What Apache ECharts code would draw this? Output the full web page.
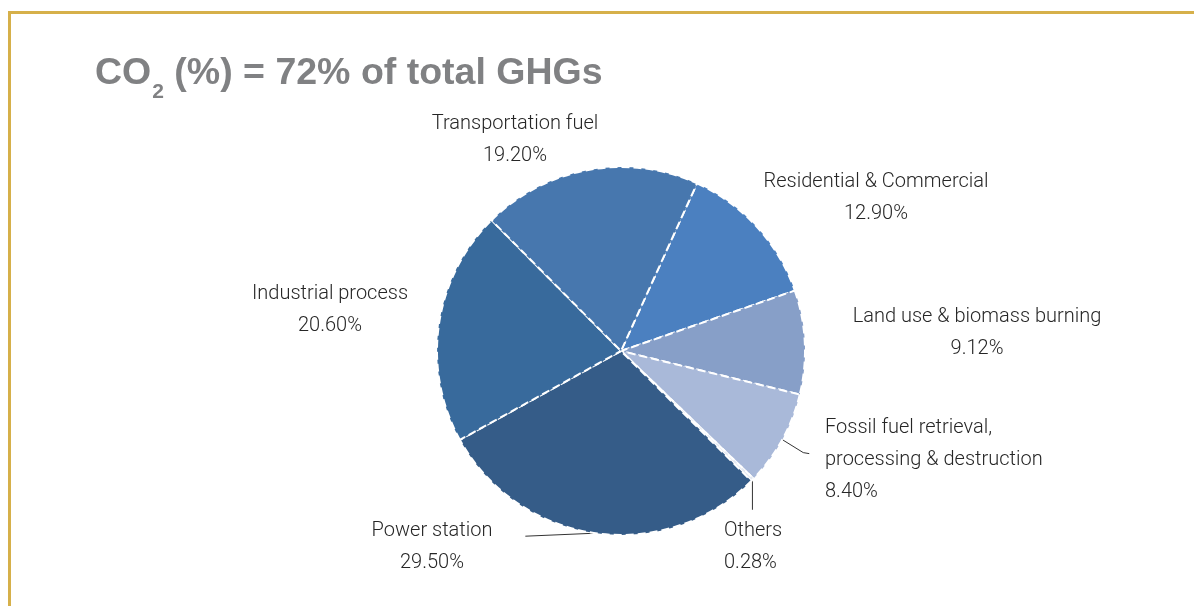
<!DOCTYPE html>
<html>
<head>
    <meta charset="utf-8">
    <title>CO2 share of total GHGs</title>
    <style>
        html, body { margin: 0; padding: 0; background: #fff; }
        #main { width: 1194px; height: 606px; }
    </style>
</head>
<body>
<div id="main"></div>

<script src="https://cdn.jsdelivr.net/npm/echarts@6/dist/echarts.min.js"></script>
<script type="text/javascript">
    // slices, clockwise starting from Residential & Commercial
    var sectors = [
        'Residential & Commercial',
        'Land use & biomass burning',
        'Fossil fuel retrieval,\nprocessing & destruction',
        'Others',
        'Power station',
        'Industrial process',
        'Transportation fuel'
    ];
    var shares = [12.90, 9.12, 8.40, 0.28, 29.50, 20.60, 19.20];
    var colors = ['#4b80c0', '#879fc8', '#a9b9d9', '#e4e9f2', '#355c88', '#386a9c', '#4777ae'];

    // where each label sits on the page: [x, top of first line, align]
    var labelPos = [
        [876, 166, 'center'],
        [977, 301, 'center'],
        [825, 412, 'left'],
        [724, 515, 'left'],
        [432, 515, 'center'],
        [330, 278, 'center'],
        [515, 108, 'center']
    ];

    var myChart = echarts.init(document.getElementById('main'));

    var pieData = sectors.map(function (name, i) {
        var withLine = (i === 2 || i === 3 || i === 4);
        return {
            name: name,
            value: shares[i],
            itemStyle: {color: colors[i]},
            labelLine: {show: withLine}
        };
    });

    var option = {
        animation: false,
        title: {
            left: 95,
            top: 55,
            padding: 0,
            text: '{a|CO}{b|2}{a| (%) = 72% of total GHGs}',
            textStyle: {
                rich: {
                    a: {
                        fontFamily: 'Liberation Sans',
                        fontWeight: 'bold',
                        fontSize: 37.5,
                        lineHeight: 40,
                        color: '#808183',
                        verticalAlign: 'top'
                    },
                    b: {
                        fontFamily: 'Liberation Sans',
                        fontWeight: 'bold',
                        fontSize: 21,
                        lineHeight: 20,
                        color: '#808183',
                        padding: [27, 0, 0, 1],
                        verticalAlign: 'top'
                    }
                }
            }
        },
        graphic: [
            {
                type: 'line',
                shape: {x1: 8, y1: 12.5, x2: 1194, y2: 12.5},
                style: {stroke: '#d6b04a', lineWidth: 3}
            },
            {
                type: 'line',
                shape: {x1: 9.5, y1: 11, x2: 9.5, y2: 606},
                style: {stroke: '#d6b04a', lineWidth: 3}
            }
        ],
        series: [
            {
                type: 'pie',
                center: [621, 351],
                radius: 184,
                startAngle: 65.6,
                clockwise: true,
                avoidLabelOverlap: false,
                itemStyle: {
                    borderColor: '#ffffff',
                    borderWidth: 2,
                    borderType: 'dashed'
                },
                label: {
                    show: true,
                    position: 'outside',
                    formatter: function (p) {
                        return p.name + '\n' + p.value.toFixed(2) + '%';
                    },
                    fontFamily: 'Roboto',
                    fontWeight: 300,
                    fontSize: 20,
                    lineHeight: 32,
                    color: '#262626'
                },
                labelLine: {
                    lineStyle: {color: '#333', width: 1}
                },
                labelLayout: function (params) {
                    var i = params.dataIndex;
                    var pos = labelPos[i];
                    var out = {x: pos[0], y: pos[1], align: pos[2], verticalAlign: 'top'};
                    var pts = params.labelLinePoints;
                    if (pts && pts.length) {
                        var p0 = pts[0];
                        if (i === 2) {
                            out.labelLinePoints = [p0, [p0[0] + 21, p0[1] + 13], [p0[0] + 27, p0[1] + 14]];
                        } else if (i === 3) {
                            out.labelLinePoints = [p0, [p0[0], p0[1] + 30], [p0[0], p0[1] + 30]];
                        } else if (i === 4) {
                            out.labelLinePoints = [p0, [p0[0] - 70, p0[1] + 3], [p0[0] - 70, p0[1] + 3]];
                        }
                    }
                    return out;
                },
                data: pieData
            }
        ]
    };

    myChart.setOption(option);
</script>
</body>
</html>
